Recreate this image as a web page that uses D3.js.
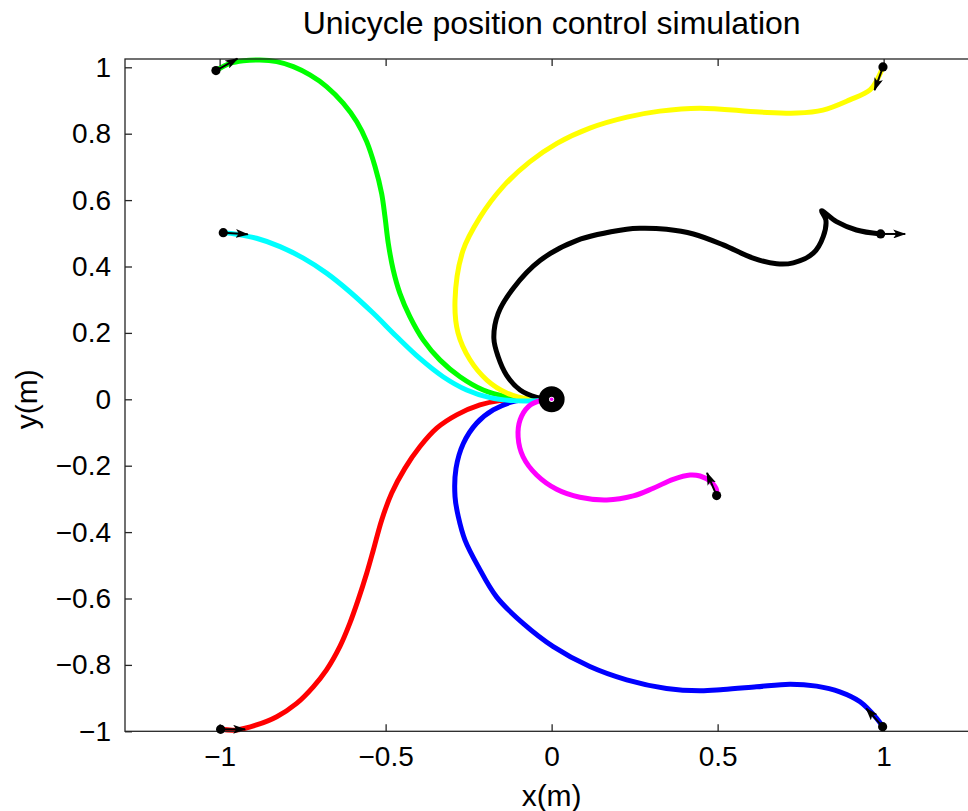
<!DOCTYPE html>
<html>
<head>
<meta charset="utf-8">
<script src="https://cdn.jsdelivr.net/npm/d3@7"></script>
<style>
  html, body { margin: 0; padding: 0; background: #fff; }
  svg text { font-family: "Liberation Sans", Arial, Helvetica, sans-serif; fill: #000; }
</style>
</head>
<body>
<svg id="chart" width="968" height="811"></svg>
<script>
// Axis ticks
const xTicks = [-1, -0.5, 0, 0.5, 1];
const yTicks = [-1, -0.8, -0.6, -0.4, -0.2, 0, 0.2, 0.4, 0.6, 0.8, 1];

// Simulated unicycle trajectories, [x, y] in metres, from start pose to the goal at the origin
const redPath = [
  [-0.997, -0.994], [-0.949, -0.996], [-0.889, -0.981], [-0.828, -0.956], [-0.768, -0.916],
  [-0.718, -0.866], [-0.678, -0.815], [-0.638, -0.745], [-0.608, -0.675], [-0.583, -0.605],
  [-0.557, -0.524], [-0.537, -0.454], [-0.512, -0.364], [-0.482, -0.283], [-0.442, -0.208],
  [-0.397, -0.143], [-0.346, -0.087], [-0.286, -0.047], [-0.216, -0.017], [-0.156, -0.004],
  [-0.095, 0.0], [-0.04, 0.0], [0, 0]
];
const bluePath = [
  [0.997, -0.986], [0.979, -0.961], [0.929, -0.911], [0.868, -0.881], [0.798, -0.864],
  [0.718, -0.858], [0.617, -0.866], [0.517, -0.874], [0.447, -0.878], [0.346, -0.871],
  [0.226, -0.845], [0.115, -0.805], [0.005, -0.745], [-0.086, -0.675], [-0.166, -0.595],
  [-0.221, -0.504], [-0.261, -0.424], [-0.281, -0.354], [-0.291, -0.293], [-0.288, -0.208],
  [-0.266, -0.133], [-0.226, -0.072], [-0.176, -0.032], [-0.116, -0.007], [-0.065, 0.0],
  [0, 0]
];
const greenPath = [
  [-1.011, 0.990], [-0.969, 1.012], [-0.929, 1.020], [-0.879, 1.022], [-0.828, 1.017],
  [-0.778, 1.002], [-0.728, 0.977], [-0.678, 0.942], [-0.628, 0.892], [-0.587, 0.836],
  [-0.557, 0.776], [-0.532, 0.701], [-0.512, 0.620], [-0.502, 0.550], [-0.492, 0.470],
  [-0.477, 0.389], [-0.457, 0.319], [-0.427, 0.249], [-0.387, 0.179], [-0.336, 0.118],
  [-0.276, 0.068], [-0.206, 0.028], [-0.136, 0.008], [-0.065, 0.0], [0, 0]
];
const yellowPath = [
  [0.998, 1.001], [0.983, 0.968], [0.959, 0.932], [0.898, 0.902], [0.817, 0.871],
  [0.739, 0.862], [0.627, 0.865], [0.446, 0.877], [0.326, 0.868], [0.227, 0.850],
  [0.115, 0.817], [0.016, 0.771], [-0.066, 0.715], [-0.147, 0.640], [-0.216, 0.548],
  [-0.267, 0.448], [-0.291, 0.298], [-0.282, 0.200], [-0.246, 0.119], [-0.195, 0.058],
  [-0.135, 0.019], [-0.066, 0.0], [0, 0]
];
const blackPath = [
  [0.991, 0.498], [0.918, 0.510], [0.858, 0.535], [0.813, 0.568], [0.826, 0.540],
  [0.818, 0.490], [0.788, 0.440], [0.728, 0.411], [0.678, 0.408], [0.607, 0.425],
  [0.517, 0.465], [0.427, 0.498], [0.346, 0.512], [0.266, 0.515], [0.226, 0.512],
  [0.075, 0.478], [-0.035, 0.418], [-0.116, 0.334], [-0.161, 0.259], [-0.174, 0.184],
  [-0.161, 0.128], [-0.136, 0.073], [-0.095, 0.028], [-0.045, 0.006], [0, 0]
];
const cyanPath = [
  [-0.989, 0.502], [-0.949, 0.497], [-0.889, 0.485], [-0.818, 0.460], [-0.748, 0.425],
  [-0.678, 0.380], [-0.608, 0.324], [-0.537, 0.259], [-0.467, 0.189], [-0.397, 0.123],
  [-0.327, 0.068], [-0.256, 0.028], [-0.186, 0.005], [-0.116, -0.004], [-0.045, -0.004],
  [0, 0]
];
const magentaPath = [
  [0.497, -0.290], [0.497, -0.273], [0.479, -0.248], [0.447, -0.231], [0.417, -0.228],
  [0.366, -0.241], [0.306, -0.268], [0.246, -0.291], [0.166, -0.303], [0.085, -0.295],
  [0.015, -0.271], [-0.045, -0.228], [-0.086, -0.173], [-0.101, -0.113], [-0.095, -0.062],
  [-0.070, -0.022], [-0.035, -0.004], [0, 0]
];

// Initial poses [x, y, heading in degrees]
const startPoses = [
  [-0.997, -0.994, 0],
  [0.997, -0.986, 132],
  [-1.011, 0.990, 29],
  [0.998, 1.001, -110],
  [0.991, 0.498, 0],
  [-0.989, 0.502, -4],
  [0.497, -0.290, 113]
];

const goal = [0, 0];

const trajectories = [
  { color: "#ff0000", points: redPath },
  { color: "#0000ff", points: bluePath },
  { color: "#00ff00", points: greenPath },
  { color: "#ffff00", points: yellowPath },
  { color: "#000000", points: blackPath },
  { color: "#00ffff", points: cyanPath },
  { color: "#ff00ff", points: magentaPath }
];

const svg = d3.select("#chart");
const plotLeft = 125, plotTop = 59, plotRight = 976.6, plotBottom = 731.3;

const x = d3.scaleLinear().domain([-1.285, 1.28]).range([plotLeft, plotRight]);
const y = d3.scaleLinear().domain([-1, 1.025]).range([plotBottom, plotTop]);

const axisColor = "#262626";
const fmt = d => (d < 0 ? "\u2212" : "") + Math.abs(d);

// Trajectories
const line = d3.line()
  .x(d => x(d[0]))
  .y(d => y(d[1]))
  .curve(d3.curveCatmullRom.alpha(0.5));

svg.append("g")
  .selectAll("path")
  .data(trajectories)
  .join("path")
  .attr("d", d => line(d.points))
  .attr("fill", "none")
  .attr("stroke", d => d.color)
  .attr("stroke-width", 5)
  .attr("stroke-linejoin", "round");

// Box
svg.append("rect")
  .attr("x", plotLeft).attr("y", plotTop)
  .attr("width", plotRight - plotLeft).attr("height", plotBottom - plotTop)
  .attr("fill", "none")
  .attr("stroke", axisColor)
  .attr("stroke-width", 1.3);

function styleAxis(g) {
  g.select(".domain").remove();
  g.selectAll(".tick line").attr("stroke", axisColor).attr("stroke-width", 1.3);
  g.selectAll(".tick text").attr("font-size", 28).attr("fill", "#000");
}

svg.append("g")
  .attr("transform", `translate(0,${plotBottom})`)
  .call(d3.axisBottom(x).tickValues(xTicks).tickFormat(fmt).tickSizeInner(-7).tickSizeOuter(0).tickPadding(15))
  .call(styleAxis);

svg.append("g")
  .attr("transform", `translate(0,${plotTop})`)
  .call(d3.axisTop(x).tickValues(xTicks).tickFormat("").tickSizeInner(-7).tickSizeOuter(0))
  .call(styleAxis);

svg.append("g")
  .attr("transform", `translate(${plotLeft},0)`)
  .call(d3.axisLeft(y).tickValues(yTicks).tickFormat(fmt).tickSizeInner(-7).tickSizeOuter(0).tickPadding(14))
  .call(styleAxis);

svg.append("g")
  .attr("transform", `translate(${plotRight},0)`)
  .call(d3.axisRight(y).tickValues(yTicks).tickFormat("").tickSizeInner(-7).tickSizeOuter(0))
  .call(styleAxis);

// Heading arrows and start markers
const defs = svg.append("defs");
defs.append("marker")
  .attr("id", "head")
  .attr("markerUnits", "userSpaceOnUse")
  .attr("viewBox", "0 0 13 9")
  .attr("refX", 12).attr("refY", 4.5)
  .attr("markerWidth", 13).attr("markerHeight", 9)
  .attr("orient", "auto")
  .append("path")
  .attr("d", "M0,0 L13,4.5 L0,9 L3,4.5 Z")
  .attr("fill", "#000");

const arrowLen = 0.074;
const poses = svg.append("g");
poses.selectAll("line")
  .data(startPoses)
  .join("line")
  .attr("x1", d => x(d[0]))
  .attr("y1", d => y(d[1]))
  .attr("x2", d => x(d[0] + arrowLen * Math.cos(d[2] * Math.PI / 180)))
  .attr("y2", d => y(d[1] + arrowLen * Math.sin(d[2] * Math.PI / 180)))
  .attr("stroke", "#000")
  .attr("stroke-width", 2)
  .attr("marker-end", "url(#head)");

poses.selectAll("circle")
  .data(startPoses)
  .join("circle")
  .attr("cx", d => x(d[0]))
  .attr("cy", d => y(d[1]))
  .attr("r", 4.6)
  .attr("fill", "#000");

// Goal marker
svg.append("circle")
  .attr("cx", x(goal[0])).attr("cy", y(goal[1]))
  .attr("r", 7.8)
  .attr("fill", "#fff")
  .attr("stroke", "#000")
  .attr("stroke-width", 10.4);
svg.append("circle")
  .attr("cx", x(goal[0])).attr("cy", y(goal[1]))
  .attr("r", 1.8)
  .attr("fill", "#ff00ff");

// Titles
svg.append("text")
  .attr("x", x(0)).attr("y", 34)
  .attr("text-anchor", "middle")
  .attr("font-size", 32)
  .text("Unicycle position control simulation");

svg.append("text")
  .attr("x", x(0)).attr("y", 806)
  .attr("text-anchor", "middle")
  .attr("font-size", 30)
  .text("x(m)");

svg.append("text")
  .attr("transform", `translate(37,${y(0)}) rotate(-90)`)
  .attr("text-anchor", "middle")
  .attr("font-size", 30)
  .text("y(m)");
</script>
</body>
</html>
